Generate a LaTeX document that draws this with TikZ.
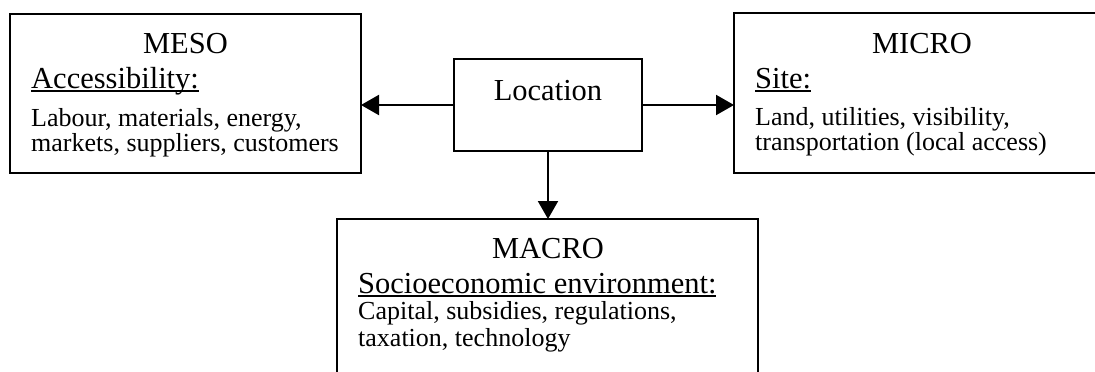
\documentclass[tikz,border=0pt]{standalone}
\usepackage{fontspec}
\setmainfont{Liberation Serif}
\usetikzlibrary{arrows.meta}
\newcommand{\ulin}[1]{\setbox0\hbox{#1}\rlap{\rule[-4pt]{\wd0}{1.8pt}}\box0}
\begin{document}
\begin{tikzpicture}[x=1pt, y=-1pt,
    box/.style={draw, line width=2pt, inner sep=0pt, outer sep=0pt},
    ttl/.style={anchor=base, inner sep=0pt, font=\fontsize{30.5}{34}\selectfont},
    hd/.style={anchor=base west, inner sep=0pt, font=\fontsize{30.5}{34}\selectfont},
    txt/.style={anchor=base west, inner sep=0pt, font=\fontsize{26}{30}\selectfont},
    arr/.style={-{Triangle[length=18pt,width=20pt]}, line width=2pt}]
    \useasboundingbox (0,0) rectangle (1095,372);
    \clip (0,0) rectangle (1095,372);
    % boxes
    \node [box, minimum width=351, minimum height=159] (meso) at (185.5,93.5) {};
    \node [box, minimum width=188, minimum height=92] (loc) at (548,105) {};
    \node [box, minimum width=376, minimum height=160] (micro) at (922,93) {};
    \node [box, minimum width=421, minimum height=200] (macro) at (547.5,319) {};
    % texts
    \node [ttl] (mesot) at (185.5,53) {MESO};
    \node [hd] (mesoh) at (31,88) {\ulin{Accessibility:}};
    \node [txt] (meso1) at (31,126) {Labour, materials, energy,};
    \node [txt] (meso2) at (31,151) {markets, suppliers, customers};
    \node [ttl] (loct) at (548,100) {Location};
    \node [ttl] (microt) at (922,53) {MICRO};
    \node [hd] (microh) at (755,88) {\ulin{Site:}};
    \node [txt] (micro1) at (755,125) {Land, utilities, visibility,};
    \node [txt] (micro2) at (755,150) {transportation (local access)};
    \node [ttl] (macrot) at (548,258) {MACRO};
    \node [hd] (macroh) at (358,293) {\ulin{Socioeconomic environment:}};
    \node [txt] (macro1) at (358,319) {Capital, subsidies, regulations,};
    \node [txt] (macro2) at (358,346) {taxation, technology};
    % arrows
    \draw[arr] (loc.west) -- (loc.west -| meso.east);
    \draw[arr] (loc.east) -- (loc.east -| micro.west);
    \draw[arr] (loc.south) -- (loc.south |- macro.north);
\end{tikzpicture}
\end{document}
